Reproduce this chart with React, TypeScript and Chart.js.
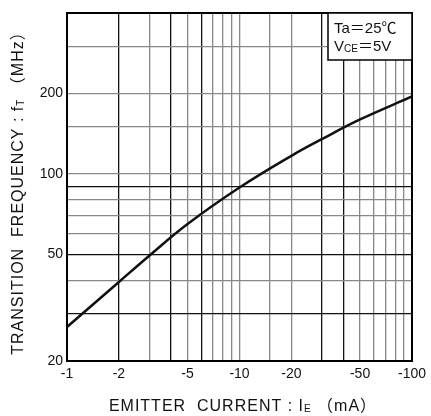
import React, { useEffect, useRef } from "react";
import { Chart, registerables } from "chart.js";

Chart.register(...registerables);

const currentMA = [1, 2, 3, 5, 10, 20, 30, 50, 100];
const freqMHz = [26.8, 39.5, 49.5, 65, 89, 117, 135, 160, 195];
const xLabelTicks = [1, 2, 5, 10, 20, 50, 100];
const yLabelTicks = [20, 50, 100, 200];
const darkX = [2, 4, 6, 30, 40];
const darkY = [30, 50, 90];

const FONT = '"Liberation Sans", Arial, "Noto Sans CJK JP", sans-serif';

type Seg = { t: string; size: number; dy: number };

function drawSegs(ctx: any, segs: Seg[], cx: number, cy: number, spacing: string) {
  ctx.letterSpacing = spacing;
  let total = 0;
  const widths = segs.map((s) => {
    ctx.font = `${s.size}px ${FONT}`;
    const w = ctx.measureText(s.t).width;
    total += w;
    return w;
  });
  let x = cx - total / 2;
  ctx.textBaseline = "middle";
  ctx.textAlign = "left";
  segs.forEach((s, i) => {
    ctx.font = `${s.size}px ${FONT}`;
    ctx.fillText(s.t, x, cy + s.dy);
    x += widths[i];
  });
  ctx.letterSpacing = "0px";
}

const decorPlugin = {
  id: "decor",
  afterDraw(chart: any) {
    const { ctx, chartArea } = chart;
    const { left, top, right, bottom } = chartArea;
    ctx.save();
    ctx.strokeStyle = "#000";
    ctx.lineWidth = 2;
    ctx.strokeRect(left, top, right - left, bottom - top);
    const bx = 328;
    const by = top;
    const bw = right - bx;
    const bh = 47;
    ctx.fillStyle = "#fff";
    ctx.fillRect(bx, by, bw, bh);
    ctx.lineWidth = 1.5;
    ctx.strokeRect(bx, by, bw, bh);
    ctx.fillStyle = "#111";
    ctx.textBaseline = "middle";
    ctx.textAlign = "left";
    ctx.font = `15px ${FONT}`;
    ctx.fillText("Ta＝25℃", 334, by + 16);
    let x = 334;
    const y2 = by + 34;
    ctx.font = `15px ${FONT}`;
    ctx.fillText("V", x, y2);
    x += ctx.measureText("V").width;
    ctx.font = `10px ${FONT}`;
    ctx.fillText("CE", x, y2 + 2);
    x += ctx.measureText("CE").width;
    ctx.font = `15px ${FONT}`;
    ctx.fillText("＝5V", x, y2);
    ctx.fillStyle = "#111";
    drawSegs(
      ctx,
      [
        { t: "EMITTER  CURRENT : I", size: 16, dy: 0 },
        { t: "E", size: 10, dy: 2 },
        { t: " （mA）", size: 16, dy: 0 },
      ],
      243,
      407,
      "1px"
    );
    ctx.translate(19, 189);
    ctx.rotate(-Math.PI / 2);
    drawSegs(
      ctx,
      [
        { t: "TRANSITION  FREQUENCY : f", size: 16, dy: 0 },
        { t: "T", size: 10, dy: 2 },
        { t: " （MHz）", size: 16, dy: 0 },
      ],
      0,
      0,
      "1px"
    );
    ctx.restore();
  },
};

export default function App() {
  const ref = useRef<HTMLCanvasElement | null>(null);
  useEffect(() => {
    if (!ref.current) return;
    const chart = new Chart(ref.current, {
      type: "line",
      data: {
        datasets: [
          {
            data: currentMA.map((x, i) => ({ x, y: freqMHz[i] })),
            borderColor: "#111",
            borderWidth: 2.5,
            pointRadius: 0,
            tension: 0.4,
            fill: false,
          },
        ],
      },
      options: {
        responsive: false,
        animation: false,
        layout: { padding: { top: 13, right: 16, left: 0, bottom: 0 } },
        plugins: { legend: { display: false }, tooltip: { enabled: false } },
        scales: {
          x: {
            type: "logarithmic",
            min: 1,
            max: 100,
            afterFit: (s: any) => {
              s.height = 55;
            },
            border: { display: false },
            grid: {
              drawTicks: false,
              lineWidth: 1.3,
              color: (c: any) =>
                darkX.includes(Math.round(c.tick?.value)) ? "#111" : "#888",
            },
            ticks: {
              autoSkip: false,
              maxRotation: 0,
              padding: 5,
              color: "#111",
              font: { family: FONT, size: 14 },
              callback: (v: any) => (xLabelTicks.includes(Number(v)) ? "-" + v : ""),
            },
          },
          y: {
            type: "logarithmic",
            min: 20,
            max: 400,
            afterFit: (s: any) => {
              s.width = 67;
            },
            border: { display: false },
            grid: {
              drawTicks: false,
              lineWidth: 1.3,
              color: (c: any) =>
                darkY.includes(Math.round(c.tick?.value)) ? "#111" : "#888",
            },
            ticks: {
              autoSkip: false,
              padding: 4,
              color: "#111",
              font: { family: FONT, size: 14 },
              callback: (v: any) => (yLabelTicks.includes(Number(v)) ? String(v) : ""),
            },
          },
        },
      },
      plugins: [decorPlugin],
    } as any);
    return () => chart.destroy();
  }, []);
  return (
    <div style={{ position: "fixed", left: 0, top: 0, width: 431, height: 416, background: "#fff" }}>
      <canvas ref={ref} width={431} height={416} />
    </div>
  );
}
